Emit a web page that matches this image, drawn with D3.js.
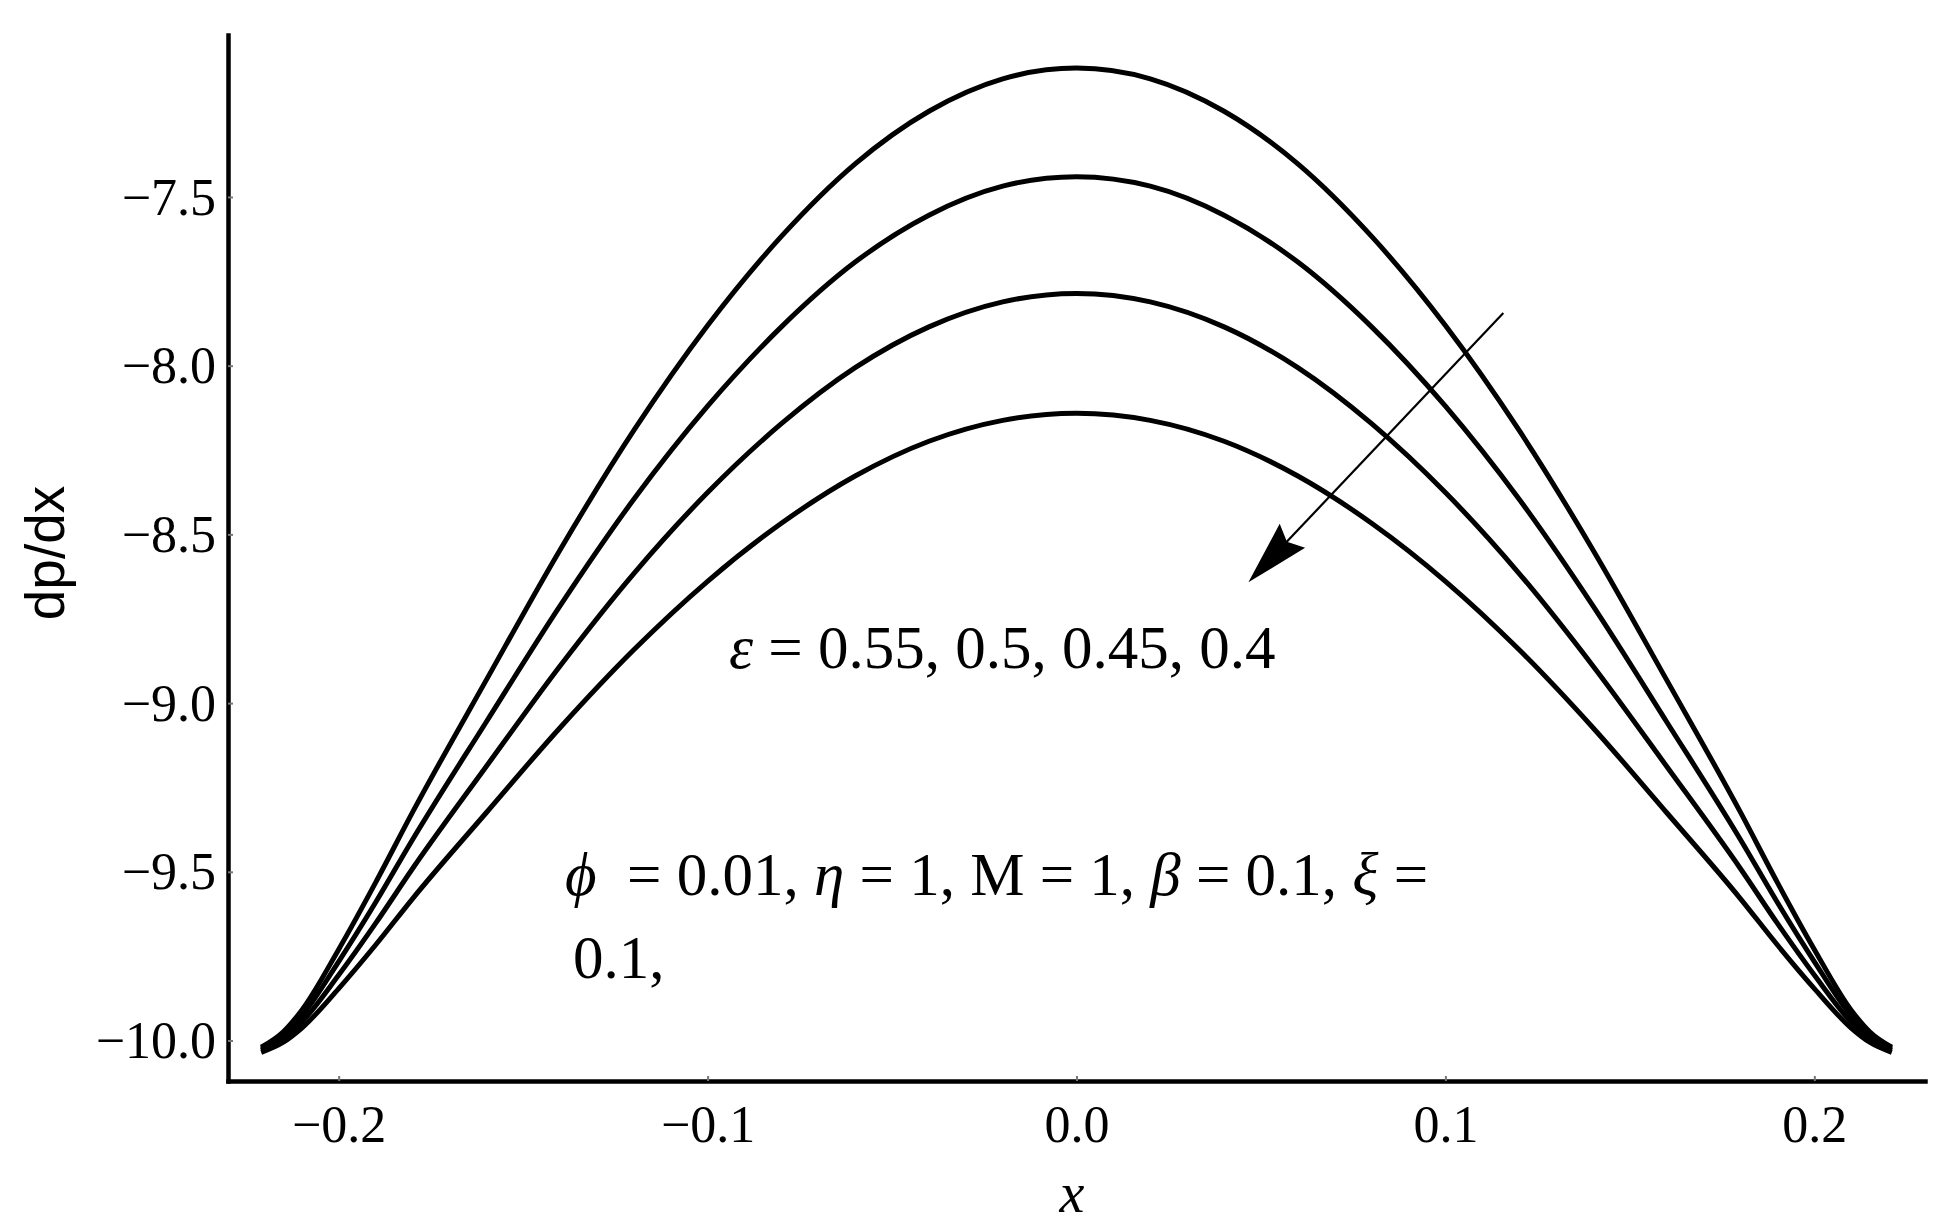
<!DOCTYPE html>
<html>
<head>
<meta charset="utf-8">
<script src="https://cdn.jsdelivr.net/npm/d3@7"></script>
<style>
  html, body { margin: 0; padding: 0; background: #ffffff; }
  svg { display: block; }
</style>
</head>
<body>
<svg id="chart" width="1950" height="1226"></svg>
<script>
// ---- data ----
const xValues = [-0.221, -0.215, -0.21, -0.2, -0.19, -0.18, -0.16, -0.14, -0.12, -0.10, -0.08, -0.06, -0.04, -0.02, 0,
                 0.02, 0.04, 0.06, 0.08, 0.10, 0.12, 0.14, 0.16, 0.18, 0.19, 0.2, 0.21, 0.215, 0.221];

const epsLabels = ["0.55", "0.5", "0.45", "0.4"];

const dpdx_eps055 = [-10.020, -9.974, -9.910, -9.730, -9.532, -9.324, -8.932, -8.546, -8.192, -7.881, -7.617, -7.402, -7.246, -7.150, -7.118,
                     -7.150, -7.246, -7.402, -7.617, -7.881, -8.192, -8.546, -8.932, -9.324, -9.532, -9.730, -9.910, -9.974, -10.020];
const dpdx_eps050 = [-10.025, -9.984, -9.927, -9.766, -9.591, -9.405, -9.056, -8.712, -8.396, -8.120, -7.885, -7.693, -7.554, -7.468, -7.440,
                     -7.468, -7.554, -7.693, -7.885, -8.120, -8.396, -8.712, -9.056, -9.405, -9.591, -9.766, -9.927, -9.984, -10.025];
const dpdx_eps045 = [-10.030, -9.994, -9.945, -9.806, -9.653, -9.491, -9.188, -8.890, -8.616, -8.376, -8.172, -8.006, -7.885, -7.811, -7.786,
                     -7.811, -7.885, -8.006, -8.172, -8.376, -8.616, -8.890, -9.188, -9.491, -9.653, -9.806, -9.945, -9.994, -10.030];
const dpdx_eps040 = [-10.035, -10.005, -9.963, -9.846, -9.717, -9.580, -9.325, -9.073, -8.842, -8.639, -8.467, -8.327, -8.224, -8.162, -8.141,
                     -8.162, -8.224, -8.327, -8.467, -8.639, -8.842, -9.073, -9.325, -9.580, -9.717, -9.846, -9.963, -10.005, -10.035];

const xTicks = [-0.2, -0.1, 0.0, 0.1, 0.2];
const yTicks = [-10.0, -9.5, -9.0, -8.5, -8.0, -7.5];

// annotation anchors in data units
const arrowStart = [0.1157, -7.844];
const arrowTip = [0.0466, -8.642];

// ---- chart ----
const svg = d3.select("#chart");
svg.append("rect").attr("width", 1950).attr("height", 1226).attr("fill", "#ffffff");

const x = d3.scaleLinear().domain([-0.23, 0.23]).range([228, 1925]);
const y = d3.scaleLinear().domain([-10.12, -7.02]).range([1081, 35]);

const serif = "'Liberation Serif', 'Times New Roman', serif";
const sans = "'Liberation Sans', Arial, sans-serif";
const fmt = d3.format(".1f");

// x axis
const gx = svg.append("g").attr("transform", `translate(0,${y.range()[0]})`)
  .call(d3.axisBottom(x).tickValues(xTicks).tickFormat(fmt).tickSize(-5).tickSizeOuter(0).tickPadding(0));
gx.select(".domain").attr("stroke", "#000").attr("stroke-width", 4.5).attr("stroke-linecap", "square");
gx.selectAll(".tick line").attr("stroke", "#777").attr("stroke-width", 2);
gx.selectAll(".tick text").attr("font-family", serif).attr("font-size", 52).attr("fill", "#000")
  .attr("y", 61).attr("dy", null);

// y axis
const gy = svg.append("g").attr("transform", `translate(${x.range()[0]},0)`)
  .call(d3.axisLeft(y).tickValues(yTicks).tickFormat(fmt).tickSize(-5).tickSizeOuter(0).tickPadding(0));
gy.select(".domain").attr("stroke", "#000").attr("stroke-width", 4.5).attr("stroke-linecap", "square");
gy.selectAll(".tick line").attr("stroke", "#777").attr("stroke-width", 2);
gy.selectAll(".tick text").attr("font-family", serif).attr("font-size", 52).attr("fill", "#000")
  .attr("x", -12).attr("dy", "0.33em").attr("text-anchor", "end");

// axis titles
svg.append("text").attr("x", 1072).attr("y", 1212).attr("text-anchor", "middle")
  .attr("font-family", serif).attr("font-style", "italic").attr("font-size", 56).text("x");
svg.append("text").attr("transform", "translate(64,553) rotate(-90)").attr("text-anchor", "middle")
  .attr("font-family", sans).attr("font-size", 55).text("dp/dx");

// curves
const series = [dpdx_eps055, dpdx_eps050, dpdx_eps045, dpdx_eps040];
const line = d3.line().x((d, i) => x(xValues[i])).y(d => y(d)).curve(d3.curveMonotoneX);
svg.append("g").selectAll("path").data(series).join("path")
  .attr("d", d => line(d))
  .attr("fill", "none").attr("stroke", "#000").attr("stroke-width", 5)
  .attr("stroke-linejoin", "round");

// arrow
const p0 = [x(arrowStart[0]), y(arrowStart[1])];
const p1 = [x(arrowTip[0]), y(arrowTip[1])];
const len = Math.hypot(p1[0] - p0[0], p1[1] - p0[1]);
const d = [(p1[0] - p0[0]) / len, (p1[1] - p0[1]) / len];
const n = [-d[1], d[0]];
const L = 64, W = 17.5, notch = 56;
svg.append("line")
  .attr("x1", p0[0]).attr("y1", p0[1])
  .attr("x2", p1[0] - d[0] * (notch - 2)).attr("y2", p1[1] - d[1] * (notch - 2))
  .attr("stroke", "#000").attr("stroke-width", 2.2);
const head = [
  p1,
  [p1[0] - d[0] * L + n[0] * W, p1[1] - d[1] * L + n[1] * W],
  [p1[0] - d[0] * notch, p1[1] - d[1] * notch],
  [p1[0] - d[0] * L - n[0] * W, p1[1] - d[1] * L - n[1] * W]
];
svg.append("path").attr("d", "M" + head.map(p => p.join(",")).join("L") + "Z").attr("fill", "#000");

// annotations
const t1 = svg.append("text").attr("x", 729).attr("y", 668)
  .attr("font-family", serif).attr("font-size", 61).attr("fill", "#000");
t1.append("tspan").attr("font-style", "italic").text("ε");
t1.append("tspan").text(" = " + epsLabels.join(", "));

const t2 = svg.append("text").attr("x", 565).attr("y", 895)
  .attr("font-family", serif).attr("font-size", 61).attr("fill", "#000");
t2.append("tspan").attr("font-style", "italic").text("ϕ");
t2.append("tspan").text("\u00a0 = 0.01, ");
t2.append("tspan").attr("font-style", "italic").text("η");
t2.append("tspan").text(" = 1, M = 1, ");
t2.append("tspan").attr("font-style", "italic").text("β");
t2.append("tspan").text(" = 0.1, ");
t2.append("tspan").attr("font-style", "italic").text("ξ");
t2.append("tspan").text(" =");

svg.append("text").attr("x", 573).attr("y", 978)
  .attr("font-family", serif).attr("font-size", 61).attr("fill", "#000").text("0.1,");
</script>
</body>
</html>
